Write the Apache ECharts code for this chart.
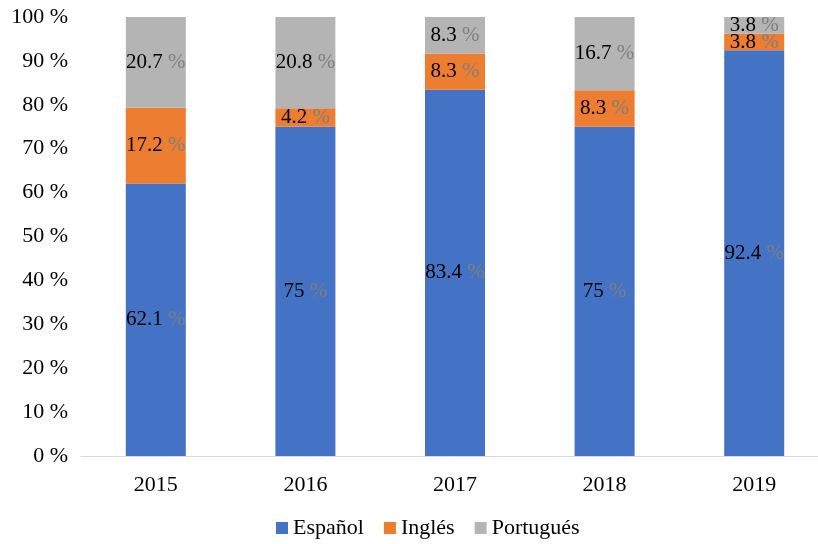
<!DOCTYPE html>
<html><head><meta charset="utf-8">
<script src="https://cdn.jsdelivr.net/npm/echarts@6/dist/echarts.min.js"></script>
<style>html,body{margin:0;padding:0;background:#fff}#c{width:818px;height:544px}</style>
</head><body><div id="c"></div>
<script>
var categories = ['2015','2016','2017','2018','2019'];
var espanol = [62.1, 75, 83.4, 75, 92.4];
var ingles = [17.2, 4.2, 8.3, 8.3, 3.8];
var portugues = [20.7, 20.8, 8.3, 16.7, 3.8];
var yTicks = [0,10,20,30,40,50,60,70,80,90,100];

var font = '"Liberation Serif","Times New Roman",serif';
function lbl() {
  return {
    show: true, position: 'inside',
    formatter: function(p){ return '{a|' + p.value + ' }{b|%}'; },
    rich: {
      a: {fontFamily: font, fontSize: 21, color: '#000'},
      b: {fontFamily: font, fontSize: 21, color: '#7f7f7f'}
    }
  };
}
function ser(name, data, color) {
  return {name: name, type: 'bar', stack: 't', data: data, barWidth: 60,
    itemStyle: {color: color}, label: lbl()};
}
var chart = echarts.init(document.getElementById('c'));
chart.setOption({
  animation: false,
  grid: {left: 81, width: 748, top: 17, height: 439, outerBoundsMode: 'none', containLabel: false},
  xAxis: {type: 'category', data: categories,
    axisLine: {lineStyle: {color: '#d9d9d9', width: 1}},
    axisTick: {show: false},
    axisLabel: {fontFamily: font, fontSize: 22, color: '#000', margin: 18}},
  yAxis: {type: 'value', min: 0, max: 100, interval: 10,
    axisLine: {show: false}, axisTick: {show: false}, splitLine: {show: false},
    axisLabel: {fontFamily: font, fontSize: 22, color: '#000', margin: 13,
      formatter: function(v){ return v + ' %'; }}},
  legend: {left: 271, bottom: 0, itemWidth: 12, itemHeight: 12, itemGap: 20,
    icon: 'rect',
    textStyle: {fontFamily: font, fontSize: 22, color: '#000'},
    data: ['Español','Inglés','Portugués']},
  series: [
    ser('Español', espanol, '#4472C4'),
    ser('Inglés', ingles, '#ED7D31'),
    ser('Portugués', portugues, '#B4B4B4')
  ]
});
</script></body></html>
